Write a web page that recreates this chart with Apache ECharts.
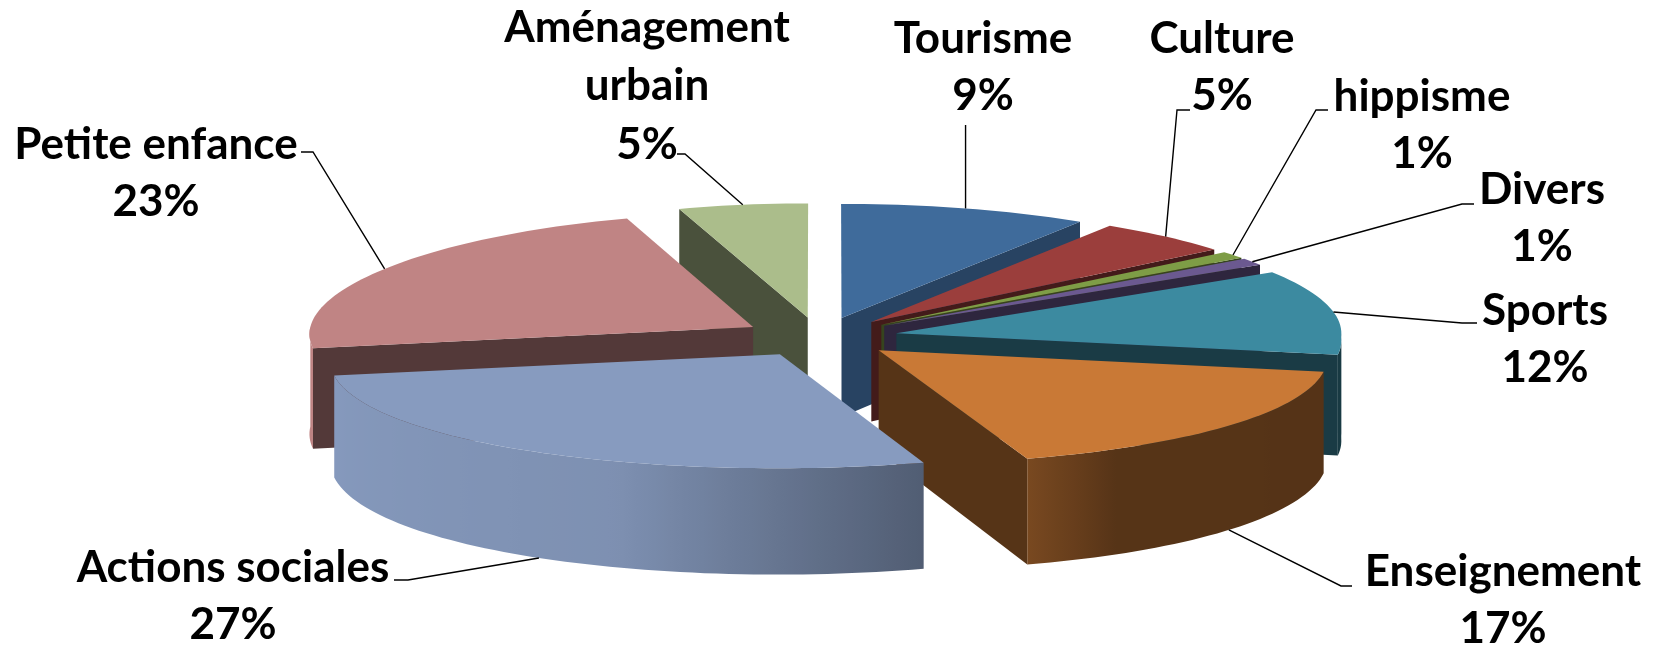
<!DOCTYPE html>
<html>
<head>
<meta charset="utf-8">
<script src="https://cdn.jsdelivr.net/npm/echarts@6/dist/echarts.min.js"></script>
<style>
html,body{margin:0;padding:0;background:#fff;}
#chart{width:1663px;height:647px;}
</style>
</head>
<body>
<div id="chart"></div>
<script>
// slices, clockwise from 12 o'clock
var categories = ['Tourisme', 'Culture', 'hippisme', 'Divers', 'Sports', 'Enseignement', 'Actions sociales', 'Petite enfance', 'Aménagement urbain'];
var values = [9, 5, 1, 1, 12, 17, 27, 23, 5];
var colors = ['#3F6B9B', '#9B3E3C', '#7E9D46', '#6B5990', '#3C8AA0', '#C97936', '#879BBF', '#C08484', '#ABBD8B'];

// label placement: block centre x, y, elbow x, y, end x (px)
var labelLayout = [
	[983, 67, null, 125, null],
	[1222, 67, 1177, 110, 1190],
	[1422, 125, 1316, 110, 1328],
	[1542, 218, 1462, 204, 1474],
	[1545, 339, 1462, 323, 1477],
	[1503, 600, 1341, 586, 1352],
	[233, 596, 408, 580, 394],
	[156, 173, 313, 152, 301],
	[647, 86, 685, 154, 677]
];

var total = values.reduce(function (a, b) { return a + b; }, 0);
var starts = [], acc = 0;
for (var i = 0; i < values.length; i++) {
	starts.push(acc / total * 360);
	acc += values[i];
}

var RAD = Math.PI / 180;
function shade(hex, f) {
	var n = parseInt(hex.slice(1), 16);
	var r = (n >> 16) & 255, g = (n >> 8) & 255, b = n & 255;
	return 'rgb(' + Math.round(r * f) + ',' + Math.round(g * f) + ',' + Math.round(b * f) + ')';
}
function interp(stops, t) {
	for (var j = 1; j < stops.length; j++) {
		if (t <= stops[j][0]) {
			var p = stops[j - 1], q = stops[j];
			return p[1] + (q[1] - p[1]) * (t - p[0]) / (q[0] - p[0]);
		}
	}
	return stops[stops.length - 1][1];
}
// light on the curved side and on the flat walls, by facing angle
var sideStops = [[90, 0.42], [150, 0.43], [162, 0.6], [200, 0.93], [270, 1.0]];
var wallStops = [[0, 0.63], [125, 0.63], [138, 0.43], [360, 0.43]];

function renderItem(params, api) {
	var i = params.dataIndex;
	var W = api.getWidth(), H = api.getHeight();
	var CX = W * 0.493, CY = H * 0.521, RX = 445, RY = 114, DEPTH = 100, PERSP = 0.055, EXPLODE = 0.175;
	var a0 = starts[i], a1 = starts[i] + values[i] / total * 360, am = (a0 + a1) / 2;
	var eu = EXPLODE * Math.sin(am * RAD), ev = EXPLODE * Math.cos(am * RAD);
	var col = colors[i];

	function P(r, t, z) {
		var u = eu + r * Math.sin(t * RAD), v = ev + r * Math.cos(t * RAD);
		// back-right side is seen wider than back-left
		var k = v < 0 ? 1 - PERSP * v : 1 - PERSP * v / (1 + Math.exp(u * 12));
		return [CX + RX * u * k, CY - RY * v + z * DEPTH * (1 - PERSP * v)];
	}
	function zOf(r, t) { return Math.round(500 - (ev + r * Math.cos(t * RAD)) * 200); }
	function arc(t0, t1, z) {
		var pts = [], n = Math.max(2, Math.ceil((t1 - t0) / 1.5));
		for (var j = 0; j <= n; j++) pts.push(P(1, t0 + (t1 - t0) * j / n, z));
		return pts;
	}
	function wall(t, normal) {
		return {
			type: 'polygon', z2: zOf(0.5, t),
			shape: { points: [P(0, 0, 0), P(1, t, 0), P(1, t, 1), P(0, 0, 1)] },
			style: { fill: shade(col, interp(wallStops, (normal + 360) % 360)) }
		};
	}

	var children = [];
	// side walls
	if (Math.sin(a0 * RAD) < -1e-6) children.push(wall(a0, a0 - 90));
	if (Math.sin(a1 * RAD) > 1e-6) children.push(wall(a1, a1 + 90));
	// curved front side
	var s0 = Math.max(a0, 90), s1 = Math.min(a1, 270);
	if (s1 > s0) {
		var top = arc(s0, s1, 0), bot = arc(s0, s1, 1).reverse();
		var x0 = P(1, s1, 0)[0], x1 = P(1, s0, 0)[0], stops = [];
		for (var t = s1; t >= s0 - 0.01; t -= 2) {
			stops.push({ offset: Math.min(1, Math.max(0, (P(1, t, 0)[0] - x0) / (x1 - x0))), color: shade(col, interp(sideStops, t)) });
		}
		stops.push({ offset: 1, color: shade(col, interp(sideStops, s0)) });
		children.push({
			type: 'polygon', z2: zOf(1, (s0 + s1) / 2),
			shape: { points: top.concat(bot) },
			style: { fill: new echarts.graphic.LinearGradient(x0, 0, x1, 0, stops, true) }
		});
	}
	// top face
	children.push({
		type: 'polygon', z2: 1000,
		shape: { points: [P(0, 0, 0)].concat(arc(a0, a1, 0)) },
		style: { fill: col }
	});

	// label and leader line
	var L = labelLayout[i];
	var anchor = P(1, am, Math.cos(am * RAD) < 0 ? 1 : 0);
	var line = [anchor];
	if (L[2] === null) {
		line.push([anchor[0], L[3]]);
	} else {
		line.push([L[2], L[3]], [L[4], L[3]]);
	}
	children.push({
		type: 'polyline', z2: 1100,
		shape: { points: line },
		style: { stroke: '#000', lineWidth: 1.4, fill: null }
	});
	var name = categories[i].length > 16 ? categories[i].replace(' ', '\n') : categories[i];
	var lines = name.split('\n').length + 1;
	children.push({
		type: 'text', z2: 1100,
		style: {
			text: name + '\n' + Math.round(values[i] / total * 100) + '%',
			x: L[0], y: L[1],
			font: 'bold 44px Lato',
			fill: '#000',
			align: 'center',
			verticalAlign: 'middle',
			lineHeight: lines > 2 ? 58.5 : 57
		}
	});
	return { type: 'group', children: children };
}

var chart = echarts.init(document.getElementById('chart'));
chart.setOption({
	animation: false,
	backgroundColor: '#fff',
	series: [{
		type: 'custom',
		coordinateSystem: 'none',
		renderItem: renderItem,
		data: values
	}]
});
</script>
</body>
</html>
